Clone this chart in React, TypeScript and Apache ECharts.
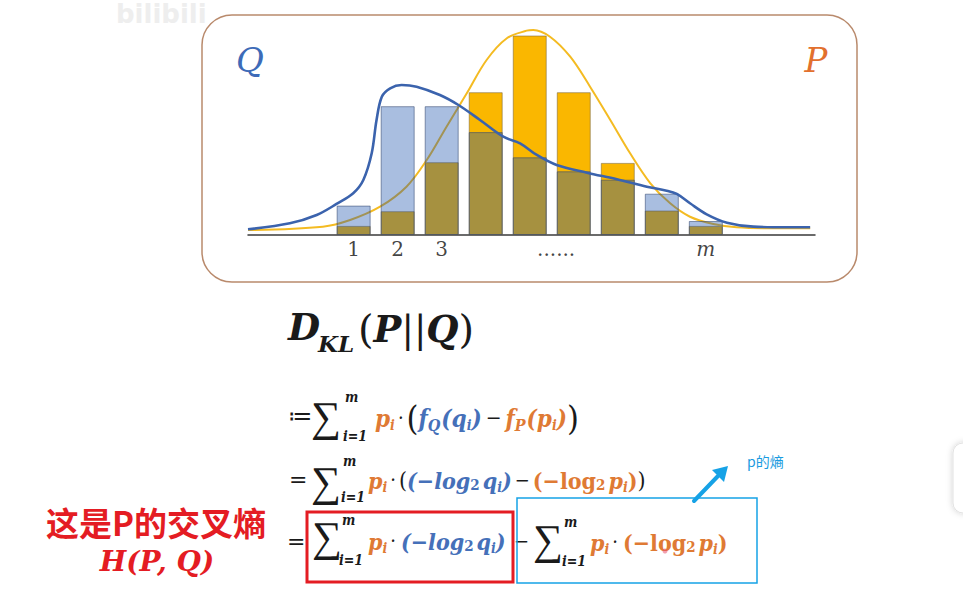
import React, { useEffect, useRef } from "react";
import * as echarts from "echarts";

// ---------------- data ----------------
const binPositions = [1, 2, 3, 4, 5, 6, 7, 8, 9];
const pValues = [1.3, 3.4, 10.4, 20.4, 28.5, 20.4, 10.3, 3.5, 1.3];
const qValues = [4.2, 18.4, 18.4, 14.7, 11.1, 9.1, 7.9, 5.9, 2.0];

const qCurveX = [-1.4, -0.45, 0.16, 0.61, 0.99, 1.22, 1.41, 1.52, 1.64, 1.83, 2.09, 2.43, 2.96, 3.38, 3.87, 4.4, 4.78, 5.16, 5.61, 6.3, 6.98, 7.66, 8.11, 8.34, 8.64, 9.02, 9.48, 10.08, 10.84, 11.37];
const qCurveY = [0.81, 1.67, 2.86, 4.43, 5.96, 7.86, 11.67, 16.43, 19.76, 20.96, 21.43, 21.19, 20.0, 18.57, 16.43, 14.04, 13.1, 11.43, 10.0, 8.9, 7.96, 6.9, 6.33, 5.86, 4.53, 2.96, 1.76, 1.19, 1.1, 1.1];

const pCurveX = [-1.4, 0.3, 0.92, 1.6, 2.2, 2.66, 3.11, 3.57, 4.02, 4.48, 4.93, 5.08, 5.46, 5.92, 6.37, 6.83, 7.28, 7.74, 8.19, 8.64, 9.17, 9.7, 10.46, 11.37];
const pCurveY = [0.71, 1.19, 2.14, 4.04, 6.9, 10.71, 15.47, 20.24, 25.0, 28.1, 29.19, 29.29, 28.33, 25.47, 21.19, 16.43, 11.67, 7.39, 4.53, 2.61, 1.57, 1.1, 0.96, 0.96];

const tickLabels = ["1", "2", "3", "......", "m"];
const tickPositions = [1, 2, 3, 5.6, 9];

// ---------------- styling ----------------
const ORANGE = "#df7a34";
const BLUE = "#4570b9";
const BLACK = "#1a1a1a";
const RED = "#e41c23";
const CYAN = "#16a2e6";
const MATH = "'DejaVu Serif Condensed', 'Liberation Serif', serif";
const SERIF = "'DejaVu Serif', serif";
const FS = 23;

let measureCtx: CanvasRenderingContext2D | null = null;
function textWidth(font: string, text: string): number {
  if (!measureCtx) measureCtx = document.createElement("canvas").getContext("2d");
  measureCtx!.font = font;
  return measureCtx!.measureText(text).width;
}

type Tok = { t: string; font: string; c: string; dy: number; pad?: number };
const M = (t: string, c: string, s = FS, fam = MATH): Tok => ({ t, font: `italic bold ${s}px ${fam}`, c, dy: 0 });
const U = (t: string, c: string, s = FS): Tok => ({ t, font: `bold ${s}px ${MATH}`, c, dy: 0 });
const Sub = (t: string, c: string, s = 14, dy = 7): Tok => ({ t, font: `italic bold ${s}px ${MATH}`, c, dy });
const Sub2 = (t: string, c: string): Tok => ({ t, font: `bold 15px ${MATH}`, c, dy: 5 });
const Op = (t: string, s = 22, c = BLACK, fam = MATH): Tok => ({ t, font: `${s}px ${fam}`, c, dy: 0 });
const Gap = (w: number): Tok => ({ t: "", font: "", c: "", dy: 0, pad: w });

function txt(text: string, x: number, y: number, font: string, fill: string, align = "left"): any {
  return {
    type: "text",
    x,
    y,
    silent: true,
    style: { text, font, fill, textAlign: align, textVerticalAlign: "middle" },
  };
}

function run(x0: number, y: number, toks: Tok[], out: any[]): number {
  let x = x0;
  for (const k of toks) {
    if (k.pad) {
      x += k.pad;
      continue;
    }
    out.push(txt(k.t, x, y + k.dy, k.font, k.c));
    x += textWidth(k.font, k.t);
  }
  return x;
}

function sigma(x: number, y: number, out: any[], mdx: number, mdy: number, idx: number, idy: number) {
  out.push(txt("∑", x, y, `42px 'Liberation Serif', serif`, BLACK));
  out.push(txt("m", x + mdx, y + mdy, `italic bold 14px ${MATH}`, BLACK));
  out.push(txt("i=1", x + idx, y + idy, `italic bold 14px ${MATH}`, BLACK));
}

const DOT = [Gap(3), Op("·", 20), Gap(3)];

function buildGraphics(): any[] {
  const g: any[] = [];
  // watermark
  g.push(txt("bilibili", 116, 14, `bold 26px 'DejaVu Sans', sans-serif`, "#eeeeee"));
  // frame around the chart
  g.push({
    type: "rect",
    silent: true,
    z: -1,
    shape: { x: 202, y: 15, width: 655, height: 267, r: 30 },
    style: { fill: "none", stroke: "#b98a6c", lineWidth: 1.5 },
  });
  g.push(txt("Q", 250, 60, `italic 34px ${SERIF}`, "#3d6bb8", "center"));
  g.push(txt("P", 816, 60, `italic 34px ${SERIF}`, "#e2702e", "center"));

  // D_KL(P||Q)
  g.push(txt("D", 288, 327, `italic bold 37px ${SERIF}`, BLACK));
  g.push(txt("KL", 318, 343, `italic bold 23px ${SERIF}`, BLACK));
  run(358, 329, [
    Op("(", 40, BLACK, SERIF), M("P", BLACK, 37, SERIF), Op("||", 37, BLACK, SERIF),
    M("Q", BLACK, 37, SERIF), Op(")", 40, BLACK, SERIF),
  ], g);

  // line 1
  g.push(txt("≔", 288, 416, `24px 'DejaVu Sans', sans-serif`, BLACK));
  sigma(311, 417, g, 34, -20, 32, 19);
  run(375, 418, [
    M("p", ORANGE, 24), Sub("i", ORANGE), ...DOT, Op("(", 34),
    M("f", BLUE, 24), Sub("Q", BLUE, 16), Gap(1), M("(", BLUE, 24), M("q", BLUE, 24), Sub("i", BLUE), M(")", BLUE, 24),
    Gap(4), Op("−", 21), Gap(4),
    M("f", ORANGE, 24), Sub("P", ORANGE, 16), Gap(1), M("(", ORANGE, 24), M("p", ORANGE, 24), Sub("i", ORANGE), M(")", ORANGE, 24),
    Op(")", 34),
  ], g);

  // line 2
  g.push(txt("=", 289, 479, `22px 'DejaVu Sans', sans-serif`, BLACK));
  sigma(311, 482, g, 32, -21, 30, 15);
  run(368, 480, [
    M("p", ORANGE), Sub("i", ORANGE), ...DOT, Op("(", 23),
    M("(−", BLUE), M("log", BLUE), Sub2("2", BLUE), Gap(3), M("q", BLUE), Sub("i", BLUE), M(")", BLUE),
    Gap(3), Op("−", 20), Gap(3),
    U("(−", ORANGE), U("log", ORANGE), Sub2("2", ORANGE), Gap(3), M("p", ORANGE), Sub("i", ORANGE), U(")", ORANGE),
    Op(")", 23),
  ], g);

  // line 3
  g.push(txt("=", 287, 541, `22px 'DejaVu Sans', sans-serif`, BLACK));
  g.push({
    type: "rect",
    silent: true,
    shape: { x: 307, y: 512, width: 206, height: 70 },
    style: { fill: "none", stroke: RED, lineWidth: 3 },
  });
  sigma(312, 537, g, 30, -17, 27, 23);
  run(368, 541, [
    M("p", ORANGE), Sub("i", ORANGE), ...DOT, Gap(2),
    M("(−", BLUE), M("log", BLUE), Sub2("2", BLUE), Gap(3), M("q", BLUE), Sub("i", BLUE), M(")", BLUE),
  ], g);
  g.push(txt("−", 514, 541, `20px ${MATH}`, BLACK));
  g.push({
    type: "rect",
    silent: true,
    shape: { x: 517, y: 498, width: 240, height: 85 },
    style: { fill: "none", stroke: CYAN, lineWidth: 1.5 },
  });
  sigma(533, 540, g, 31, -18, 29, 21);
  run(590, 542, [
    M("p", ORANGE), Sub("i", ORANGE), ...DOT, Gap(2),
    U("(−", ORANGE), U("log", ORANGE), Sub2("2", ORANGE), Gap(3), M("p", ORANGE), Sub("i", ORANGE), U(")", ORANGE),
  ], g);
  g.push({ type: "circle", silent: true, shape: { cx: 665, cy: 551, r: 2.5 }, style: { fill: "rgba(232,80,110,0.55)" } });

  // red annotation
  g.push(txt("这是P的交叉熵", 46, 522, `bold 33px 'Noto Sans CJK SC', sans-serif`, RED));
  g.push(txt("H(P, Q)", 157, 561, `italic bold 28px ${SERIF}`, RED, "center"));

  // arrow + "p的熵"
  g.push({
    type: "line",
    silent: true,
    shape: { x1: 694, y1: 501, x2: 718, y2: 476 },
    style: { stroke: CYAN, lineWidth: 4, lineCap: "round" },
  });
  g.push({
    type: "polygon",
    silent: true,
    shape: { points: [[728, 466], [724, 482], [712, 470]] },
    style: { fill: CYAN },
  });
  g.push(txt("p的熵", 747, 461, `14px 'Noto Sans CJK SC', sans-serif`, "#1a9be0"));

  // right-edge widget
  g.push({
    type: "rect",
    silent: true,
    shape: { x: 953, y: 443, width: 40, height: 70, r: 10 },
    style: { fill: "#ffffff", stroke: "#e2e2e2", lineWidth: 1, shadowBlur: 6, shadowColor: "rgba(0,0,0,0.18)" },
  });
  return g;
}

export default function App() {
  const ref = useRef<HTMLDivElement>(null);
  useEffect(() => {
    if (!ref.current) return;
    const chart = echarts.init(ref.current, undefined, { renderer: "svg" });
    chart.setOption({
      animation: false,
      backgroundColor: "#ffffff",
      grid: { left: 248, right: 148, top: 25, bottom: 364 },
      xAxis: {
        type: "value",
        min: -1.4,
        max: 11.48,
        axisLine: { show: true, lineStyle: { color: "#3a3a3a", width: 1.5 } },
        axisTick: { show: false },
        axisLabel: { show: false },
        splitLine: { show: false },
      },
      yAxis: {
        type: "value",
        min: 0,
        max: 30,
        show: false,
        splitLine: { show: false },
      },
      series: [
        {
          type: "bar",
          name: "P",
          barWidth: 34,
          barGap: "-100%",
          z: 2,
          data: binPositions.map((x, i) => [x, pValues[i]]),
          itemStyle: { color: "#fab700", borderColor: "rgba(120,100,60,0.55)", borderWidth: 1 },
        },
        {
          type: "line",
          name: "P curve",
          z: 3,
          smooth: 0.35,
          showSymbol: false,
          data: pCurveX.map((x, i) => [x, pCurveY[i]]),
          lineStyle: { color: "#f4bb22", width: 2 },
        },
        {
          type: "bar",
          name: "Q",
          barWidth: 34,
          barGap: "-100%",
          z: 4,
          data: binPositions.map((x, i) => [x, qValues[i]]),
          itemStyle: { color: "rgba(24,80,172,0.373)", borderColor: "rgba(50,70,110,0.55)", borderWidth: 1 },
        },
        {
          type: "line",
          name: "Q curve",
          z: 6,
          smooth: 0.35,
          showSymbol: false,
          data: qCurveX.map((x, i) => [x, qCurveY[i]]),
          lineStyle: { color: "#3b63ad", width: 2.6 },
        },
        {
          type: "scatter",
          name: "ticks",
          z: 7,
          symbolSize: 1,
          itemStyle: { color: "rgba(0,0,0,0)" },
          data: tickPositions.map((x, i) => ({
            value: [x, 0],
            label: { fontStyle: tickLabels[i] === "m" ? "italic" : "normal" },
          })),
          label: {
            show: true,
            position: "bottom",
            distance: 3,
            formatter: (p: any) => tickLabels[p.dataIndex],
            fontSize: 20,
            fontFamily: SERIF,
            color: "#111111",
          },
        },
      ],
      graphic: { elements: buildGraphics() },
    });
    return () => chart.dispose();
  }, []);
  return (
    <div
      ref={ref}
      style={{ position: "absolute", left: 0, top: 0, width: 963, height: 599, background: "#fff" }}
    />
  );
}
